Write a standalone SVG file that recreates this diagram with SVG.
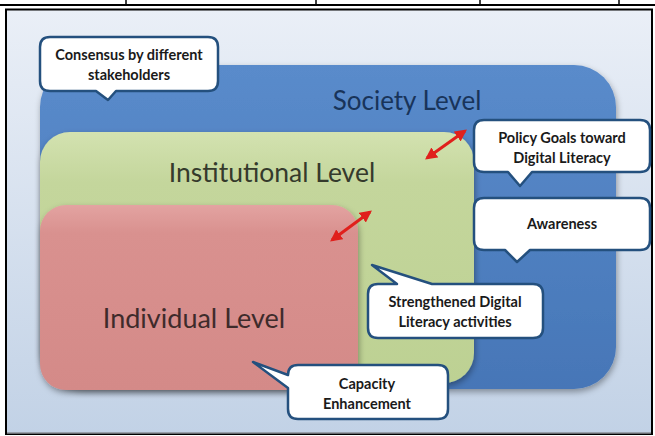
<svg xmlns="http://www.w3.org/2000/svg" width="655" height="436" viewBox="0 0 655 436">
<defs>
<style>
.lvl{font-family:Lato,"Open Sans","Liberation Sans",sans-serif;text-anchor:middle}
.co{fill:#fff;stroke:#24507e;stroke-width:2.5;stroke-linejoin:round}
.ct{font-family:Lato,"Open Sans","Liberation Sans",sans-serif;font-weight:bold;font-size:14.5px;fill:#1a1a1a;text-anchor:middle}
.arr{stroke:#e0201c;stroke-width:3;fill:none}
</style>
<linearGradient id="bg" x1="0" y1="0" x2="0" y2="1">
<stop offset="0" stop-color="#eaeff7"/>
<stop offset="1" stop-color="#c2d2e6"/>
</linearGradient>
<linearGradient id="gb" x1="0" y1="0" x2="0" y2="1">
<stop offset="0" stop-color="#5a8bcb"/>
<stop offset="1" stop-color="#4676b7"/>
</linearGradient>
<linearGradient id="gg" x1="0" y1="0" x2="0" y2="1">
<stop offset="0" stop-color="#d3e2b0"/>
<stop offset="0.2" stop-color="#c4d69c"/>
<stop offset="1" stop-color="#bdd193"/>
</linearGradient>
<linearGradient id="gr" x1="0" y1="0" x2="0" y2="1">
<stop offset="0" stop-color="#e3a3a1"/>
<stop offset="0.15" stop-color="#d9918f"/>
<stop offset="1" stop-color="#d48a88"/>
</linearGradient>
<filter id="sh" x="-10%" y="-10%" width="120%" height="125%">
<feDropShadow dx="1" dy="3" stdDeviation="3" flood-color="#000" flood-opacity="0.35"/>
</filter>
<marker id="ah" viewBox="0 0 10 10" refX="8" refY="5" markerWidth="4" markerHeight="4" orient="auto-start-reverse">
<path d="M0,0 L10,5 L0,10 z" fill="#e0201c"/>
</marker>
</defs>
<g id="table-fragment" stroke="#000">
<line x1="0" y1="5" x2="655" y2="5" stroke-width="2"/>
<line x1="126" y1="0" x2="126" y2="5" stroke-width="1.5"/>
<line x1="316" y1="0" x2="316" y2="5" stroke-width="1.5"/>
<line x1="480" y1="0" x2="480" y2="5" stroke-width="1.5"/>
<line x1="619" y1="0" x2="619" y2="5" stroke-width="1.5"/>
</g>
<rect x="6" y="9.5" width="646" height="424.5" fill="url(#bg)" stroke="#000" stroke-width="2"/>
<line x1="7" y1="433" x2="651" y2="433" stroke="#8a8f96" stroke-width="1.5"/>
<g id="society">
<rect x="40" y="65" width="576" height="324" rx="42" fill="url(#gb)" filter="url(#sh)"/>
<text class="lvl" x="407" y="110" font-size="26" fill="#18345a">Society Level</text>
</g>
<g id="institutional">
<rect x="40" y="132" width="434" height="251" rx="30" fill="url(#gg)" filter="url(#sh)"/>
<text class="lvl" x="272" y="182" font-size="26.5" fill="#353a2c">Institutional Level</text>
</g>
<g id="individual">
<rect x="40" y="205" width="318" height="185" rx="26" fill="url(#gr)" filter="url(#sh)"/>
<text class="lvl" x="194" y="328" font-size="27" fill="#3e2b2b">Individual Level</text>
</g>
<g id="connectors">
<line class="arr" x1="427" y1="158" x2="465" y2="131" marker-start="url(#ah)" marker-end="url(#ah)"/>
<line class="arr" x1="332" y1="240" x2="370" y2="212" marker-start="url(#ah)" marker-end="url(#ah)"/>
</g>
<g id="callout-consensus">
<path class="co" d="M50,37 H208 Q218,37 218,47 V81 Q218,91 208,91 H116 L108,100 L96,91 H50 Q40,91 40,81 V47 Q40,37 50,37 Z"/>
<text class="ct" x="129" y="60">Consensus by different</text>
<text class="ct" x="129" y="80">stakeholders</text>
</g>
<g id="callout-policy">
<path class="co" d="M484,120 H640 Q650,120 650,130 V162 Q650,172 640,172 H532 L520,186 L508,172 H484 Q474,172 474,162 V130 Q474,120 484,120 Z"/>
<text class="ct" x="562" y="143">Policy Goals toward</text>
<text class="ct" x="562" y="163">Digital Literacy</text>
</g>
<g id="callout-awareness">
<path class="co" d="M484,198 H640 Q650,198 650,208 V240 Q650,250 640,250 H530 L517,262 L505,250 H484 Q474,250 474,240 V208 Q474,198 484,198 Z"/>
<text class="ct" x="562" y="229">Awareness</text>
</g>
<g id="callout-strengthened">
<path class="co" d="M378,284 H397 L372,265 L432,284 H533 Q543,284 543,294 V328 Q543,338 533,338 H378 Q368,338 368,328 V294 Q368,284 378,284 Z"/>
<text class="ct" x="455" y="307">Strengthened Digital</text>
<text class="ct" x="455" y="327">Literacy activities</text>
</g>
<g id="callout-capacity">
<path class="co" d="M298,365 H438 Q448,365 448,375 V409 Q448,419 438,419 H298 Q288,419 288,409 V388 L253,362 L288,375 V375 Q288,365 298,365 Z"/>
<text class="ct" x="367" y="389">Capacity</text>
<text class="ct" x="367" y="409">Enhancement</text>
</g>
</svg>
